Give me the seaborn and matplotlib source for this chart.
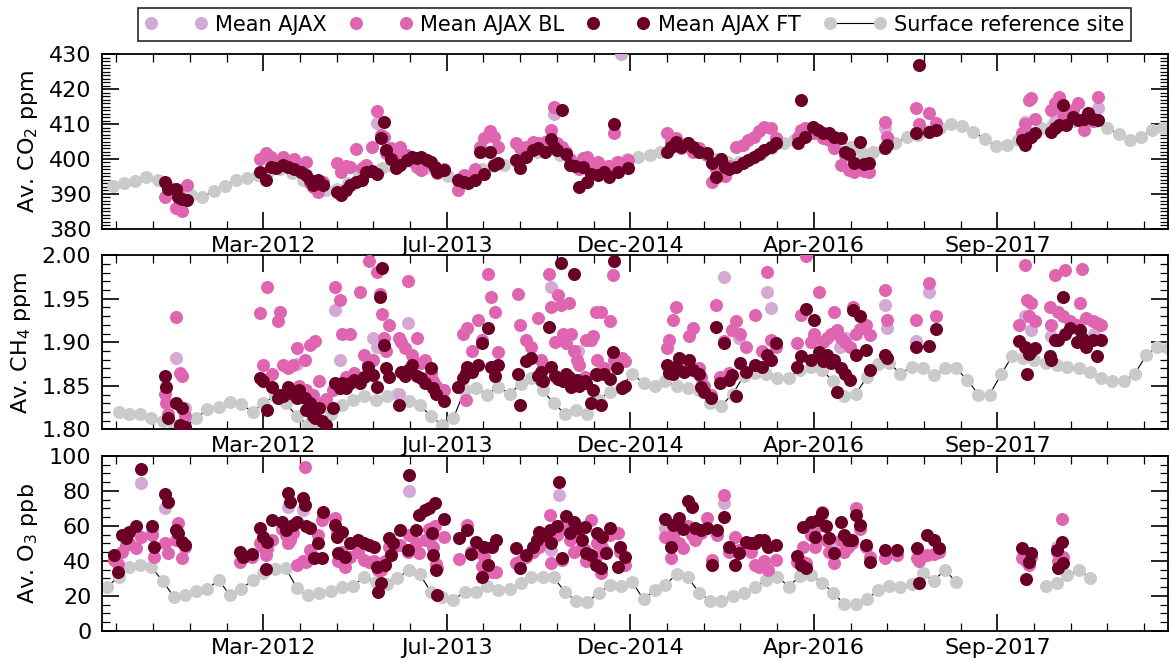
import numpy as np
import pandas as pd
import matplotlib
matplotlib.use("Agg")
import matplotlib.pyplot as plt
import matplotlib.dates as mdates
from matplotlib.ticker import MultipleLocator, FixedLocator, FormatStrFormatter
from matplotlib.lines import Line2D
import seaborn as sns

# ---------------------------------------------------------------- data ----
# AJAX flights: decimal-year flight time, boundary-layer (BL) and free-troposphere (FT) means
co2_time = [2011.47, 2011.49, 2011.55, 2011.57, 2011.60, 2011.63,
            2012.18, 2012.22, 2012.26, 2012.30, 2012.35, 2012.39, 2012.43, 2012.48, 2012.52, 2012.55, 2012.57, 2012.61, 2012.65,
            2012.75, 2012.78, 2012.82, 2012.85, 2012.89, 2012.94, 2012.97, 2013.01, 2013.05, 2013.08, 2013.10, 2013.12,
            2013.15, 2013.19, 2013.22, 2013.27, 2013.31, 2013.35, 2013.38, 2013.42, 2013.45, 2013.48, 2013.50, 2013.55,
            2013.65, 2013.70, 2013.73, 2013.78, 2013.82, 2013.85, 2013.89, 2013.92, 2013.95,
            2014.09, 2014.12, 2014.16, 2014.21, 2014.25, 2014.30, 2014.35, 2014.37, 2014.39, 2014.43, 2014.46, 2014.49,
            2014.53, 2014.56, 2014.59, 2014.62, 2014.65, 2014.70, 2014.74, 2014.78, 2014.82, 2014.85, 2014.92,
            2015.21, 2015.24, 2015.28, 2015.32, 2015.37, 2015.41, 2015.45, 2015.51, 2015.55, 2015.58, 2015.62, 2015.65,
            2015.68, 2015.73, 2015.78, 2015.82, 2015.86, 2015.90, 2015.94, 2015.99, 2016.03,
            2016.19, 2016.21, 2016.24, 2016.30, 2016.34, 2016.38, 2016.42, 2016.46, 2016.51, 2016.54, 2016.57, 2016.61,
            2016.65, 2016.68, 2016.72,
            2016.835, 2016.855, 2017.07, 2017.09, 2017.17, 2017.22,
            2017.86, 2017.88, 2017.91, 2017.93, 2017.96, 2018.08, 2018.11, 2018.14, 2018.17, 2018.19, 2018.24, 2018.28,
            2018.32, 2018.35, 2018.39, 2018.43]
co2_bl = [389.0, 392.0, 386.0, 390.0, 385.2, 392.5,
          399.9, 401.6, 400.6, 399.2, 400.6, 399.5, 400.0, 398.2, 399.0, 393.2, 392.0, 390.6, 393.5,
          398.7, 396.3, 398.0, 397.8, 402.8, 397.5, 398.3, 403.5, 413.7, 406.9, 406.4, 401.6,
          403.0, 401.6, 403.5, 401.0, 399.5, 397.8, 396.8, 399.0, 398.5, 397.0, 396.0, 397.0,
          391.1, 395.4, 394.5, 397.0, 403.5, 405.9, 408.1, 406.4, 403.5,
          404.5, 403.0, 403.5, 405.0, 404.5, 405.0, 408.3, 415.0, 404.5, 403.5, 402.0, 400.0,
          398.5, 397.0, 400.2, 400.6, 398.0, 399.2, 397.5, 398.0, 407.3, 399.0, 399.7,
          407.3, 405.0, 405.9, 403.0, 404.5, 402.0, 403.0, 401.0, 393.5, 397.0, 400.0, 395.0,
          398.0, 403.5, 404.0, 405.4, 406.4, 408.0, 409.3, 408.8, 406.0,
          406.4, 408.3, 409.0, 407.5, 408.0, 406.0, 405.4, 403.0, 398.3, 401.0, 396.8, 396.3,
          398.0, 396.5, 396.3,
          410.7, 406.4, 414.5, 410.0, 413.3, 410.2,
          407.3, 410.0, 416.9, 417.4, 411.6, 414.0, 416.0, 417.9, 413.0, 410.0, 414.0, 416.0,
          408.3, 412.0, 411.0, 417.9]
co2_ft = [393.5, 391.3, 391.5, 389.0, 388.4, 388.2,
          396.3, 394.0, 397.8, 397.5, 398.2, 397.6, 397.0, 396.3, 395.4, 394.0, 392.5, 394.0, 392.5,
          390.6, 389.7, 391.1, 392.5, 393.5, 394.0, 396.3, 396.6, 395.7, 405.9, 410.7, 402.6,
          399.9, 397.3, 398.3, 399.7, 400.7, 400.2, 400.7, 399.7, 399.2, 397.8, 396.3, 396.8,
          394.0, 393.5, 393.0, 394.0, 402.1, 395.8, 402.1, 398.3, 398.7,
          399.7, 397.3, 400.5, 402.6, 403.0, 402.0, 405.6, 403.5, 402.5, 414.0, 401.5, 398.3,
          398.0, 392.0, 397.8, 393.5, 395.8, 395.4, 396.3, 394.9, 410.0, 396.3, 397.3,
          402.1, 403.5, 405.0, 403.5, 404.5, 403.5, 402.1, 401.6, 398.7, 394.9, 399.9, 397.8,
          397.0, 397.8, 398.7, 399.7, 400.7, 401.5, 402.6, 403.5, 404.5,
          404.5, 416.9, 406.4, 409.3, 408.3, 407.5, 407.3, 406.4, 405.9, 402.1, 401.5, 398.7,
          405.0, 398.5, 398.7,
          403.0, 404.0, 407.3, 426.9, 407.8, 408.3,
          405.4, 404.0, 406.0, 406.4, 407.3, 407.8, 409.0, 409.7, 415.5, 409.7, 412.1, 411.2,
          411.6, 413.1, 411.6, 411.2]
co2_mean_time = [2013.05, 2014.37, 2014.87, 2016.835, 2017.88, 2018.11, 2018.43]
co2_mean = [410.2, 413.0, 430.0, 408.8, 410.7, 411.0, 414.5]

ch4_time = [2011.47, 2011.48, 2011.49, 2011.55, 2011.58, 2011.60, 2011.62,
            2012.18, 2012.20, 2012.23, 2012.27, 2012.31, 2012.33, 2012.35, 2012.39, 2012.42, 2012.45, 2012.47,
            2012.51, 2012.52, 2012.55, 2012.57, 2012.59, 2012.62, 2012.64, 2012.67,
            2012.72, 2012.74, 2012.77, 2012.79, 2012.82, 2012.85, 2012.88, 2012.92, 2012.95, 2012.98, 2012.99,
            2013.02, 2013.05, 2013.07, 2013.09, 2013.10, 2013.12, 2013.14,
            2013.21, 2013.23, 2013.26, 2013.28, 2013.31, 2013.35, 2013.38, 2013.41, 2013.45, 2013.47, 2013.49, 2013.55,
            2013.65, 2013.69, 2013.71, 2013.72, 2013.76, 2013.80, 2013.83, 2013.88, 2013.90, 2013.93, 2013.95,
            2014.10, 2014.12, 2014.16, 2014.20, 2014.25, 2014.27, 2014.29, 2014.33, 2014.35, 2014.38, 2014.40,
            2014.42, 2014.44, 2014.46, 2014.48, 2014.50, 2014.52, 2014.54, 2014.56, 2014.60, 2014.61, 2014.65,
            2014.66, 2014.68, 2014.69, 2014.72, 2014.74, 2014.79, 2014.81, 2014.82, 2014.84, 2014.88, 2014.90,
            2015.21, 2015.23, 2015.26, 2015.28, 2015.30, 2015.34, 2015.38, 2015.41, 2015.45, 2015.47, 2015.49,
            2015.54, 2015.58, 2015.61, 2015.64, 2015.68, 2015.70, 2015.73, 2015.76, 2015.80, 2015.87, 2015.92,
            2015.96, 2015.99, 2016.03,
            2016.18, 2016.21, 2016.25, 2016.29, 2016.31, 2016.35, 2016.38, 2016.41, 2016.44, 2016.46, 2016.48,
            2016.51, 2016.54, 2016.58, 2016.60, 2016.62, 2016.65, 2016.70, 2016.73, 2016.84, 2016.85,
            2017.07, 2017.17, 2017.22,
            2017.84, 2017.88, 2017.90, 2017.91, 2017.93, 2017.96, 2018.07, 2018.08, 2018.11, 2018.13, 2018.17,
            2018.18, 2018.22, 2018.27, 2018.29, 2018.31, 2018.34, 2018.39, 2018.42, 2018.45]
ch4_bl = [1.841, 1.830, 1.818, 1.929, 1.865, 1.861, 1.815,
          1.934, 1.874, 1.964, 1.864, 1.925, 1.935, 1.874, 1.870, 1.874, 1.894, 1.850,
          1.880, 1.845, 1.897, 1.840, 1.901, 1.856, 1.830, 1.835,
          1.845, 1.964, 1.949, 1.909, 1.860, 1.909, 1.865, 1.958, 1.885, 1.875, 1.993,
          1.880, 1.981, 1.956, 1.933, 1.905, 1.890, 1.920,
          1.905, 1.900, 1.893, 1.970, 1.885, 1.905, 1.876, 1.880, 1.865, 1.855, 1.850, 1.845,
          1.849, 1.909, 1.834, 1.916, 1.890, 1.926, 1.903, 1.979, 1.952, 1.935, 1.889,
          1.956, 1.920, 1.903, 1.895, 1.928, 1.880, 1.874, 1.979, 1.940, 1.900, 1.954,
          1.943, 1.910, 1.899, 1.945, 1.909, 1.890, 1.880, 1.874, 1.860, 1.903, 1.903,
          1.907, 1.935, 1.880, 1.935, 1.870, 1.924, 1.977, 1.880, 1.875, 1.882, 1.878,
          1.893, 1.903, 1.926, 1.941, 1.880, 1.875, 1.907, 1.916, 1.870, 1.860, 1.850,
          1.840, 1.943, 1.860, 1.901, 1.865, 1.914, 1.924, 1.910, 1.895, 1.931, 1.890,
          1.981, 1.903, 1.895,
          1.899, 1.931, 1.999, 1.900, 1.910, 1.958, 1.900, 1.905, 1.910, 1.935, 1.914,
          1.905, 1.900, 1.895, 1.941, 1.910, 1.915, 1.920, 1.908, 1.960, 1.926,
          1.926, 1.968, 1.930,
          1.920, 1.989, 1.949, 1.930, 1.945, 1.925, 1.941, 1.920, 1.977, 1.935, 1.930,
          1.983, 1.925, 1.920, 1.945, 1.984, 1.928, 1.924, 1.922, 1.920]
ch4_ft = [1.861, 1.849, 1.813, 1.830, 1.805, 1.824, 1.803,
          1.859, 1.855, 1.822, 1.849, 1.836, 1.840, 1.838, 1.849, 1.841, 1.836, 1.845,
          1.836, 1.822, 1.830, 1.815, 1.813, 1.825, 1.809, 1.805,
          1.824, 1.853, 1.847, 1.853, 1.847, 1.853, 1.857, 1.853, 1.860, 1.872, 1.865,
          1.862, 1.849, 1.952, 1.985, 1.897, 1.870, 1.860,
          1.828, 1.866, 1.861, 1.868, 1.874, 1.861, 1.859, 1.853, 1.870, 1.847, 1.841, 1.832,
          1.849, 1.859, 1.865, 1.872, 1.866, 1.874, 1.899, 1.916, 1.872, 1.861, 1.874,
          1.864, 1.828, 1.878, 1.882, 1.861, 1.866, 1.855, 1.918, 1.872, 1.861, 1.858,
          1.991, 1.855, 1.864, 1.860, 1.849, 1.979, 1.857, 1.850, 1.855, 1.853, 1.830,
          1.845, 1.864, 1.862, 1.828, 1.864, 1.858, 1.889, 1.993, 1.870, 1.847, 1.850,
          1.874, 1.865, 1.864, 1.872, 1.882, 1.866, 1.880, 1.868, 1.864, 1.849, 1.843,
          1.836, 1.918, 1.853, 1.899, 1.857, 1.862, 1.838, 1.876, 1.866, 1.874, 1.872,
          1.885, 1.880, 1.899,
          1.872, 1.884, 1.938, 1.880, 1.926, 1.889, 1.878, 1.885, 1.876, 1.880, 1.843,
          1.870, 1.864, 1.857, 1.937, 1.885, 1.930, 1.891, 1.868, 1.885, 1.882,
          1.895, 1.896, 1.915,
          1.901, 1.895, 1.864, 1.887, 1.890, 1.893, 1.884, 1.880, 1.903, 1.903, 1.952,
          1.910, 1.916, 1.900, 1.914, 1.905, 1.895, 1.903, 1.884, 1.903]
ch4_mean_time = [2011.55, 2011.62, 2012.45, 2012.74, 2012.77, 2013.02, 2013.05, 2013.21, 2013.28, 2014.20,
                 2014.35, 2014.55, 2014.70, 2015.64, 2015.70, 2015.75, 2015.96, 2015.99, 2016.50, 2016.55,
                 2016.84, 2016.85, 2017.07, 2017.17, 2017.88, 2017.93, 2018.08, 2018.30, 2018.40]
ch4_mean = [1.882, 1.825, 1.875, 1.937, 1.880, 1.905, 1.895, 1.841, 1.922, 1.882,
            1.964, 1.890, 1.865, 1.975, 1.914, 1.905, 1.958, 1.939, 1.895, 1.905,
            1.943, 1.916, 1.901, 1.958, 1.930, 1.914, 1.907, 1.905, 1.910]

o3_time = [2011.09, 2011.12, 2011.15, 2011.18, 2011.20, 2011.25, 2011.29, 2011.37, 2011.39, 2011.47, 2011.49,
           2011.55, 2011.57, 2011.60, 2011.62,
           2012.03, 2012.05, 2012.12, 2012.18, 2012.20, 2012.22, 2012.23, 2012.27, 2012.34, 2012.37, 2012.39,
           2012.40, 2012.42, 2012.45, 2012.50, 2012.51, 2012.52, 2012.55, 2012.58, 2012.61, 2012.64, 2012.65,
           2012.74, 2012.75, 2012.76, 2012.79, 2012.81, 2012.85, 2012.91, 2012.95, 2012.99, 2013.03, 2013.05,
           2013.06, 2013.08, 2013.11, 2013.14, 2013.15, 2013.17,
           2013.22, 2013.28, 2013.29, 2013.34, 2013.36, 2013.41, 2013.44, 2013.46, 2013.47, 2013.48, 2013.49,
           2013.50, 2013.55,
           2013.66, 2013.72, 2013.75, 2013.79, 2013.83, 2013.85, 2013.88, 2013.91, 2013.94,
           2014.09, 2014.12, 2014.16, 2014.21, 2014.24, 2014.26, 2014.30, 2014.34, 2014.35, 2014.39, 2014.41,
           2014.43, 2014.46, 2014.49, 2014.52, 2014.55, 2014.58, 2014.60, 2014.61, 2014.65, 2014.68, 2014.69,
           2014.72, 2014.73, 2014.76, 2014.79, 2014.85, 2014.86, 2014.90,
           2015.20, 2015.24, 2015.26, 2015.30, 2015.33, 2015.37, 2015.40, 2015.42, 2015.47, 2015.51, 2015.55,
           2015.59, 2015.64, 2015.68, 2015.72, 2015.75, 2015.80, 2015.84, 2015.87, 2015.90, 2015.94, 2015.97,
           2016.03,
           2016.18, 2016.21, 2016.23, 2016.25, 2016.29, 2016.32, 2016.34, 2016.37, 2016.40, 2016.42, 2016.46,
           2016.51, 2016.53, 2016.56, 2016.59, 2016.62, 2016.65, 2016.70, 2016.73,
           2016.84, 2016.93, 2017.08, 2017.09, 2017.15, 2017.20, 2017.24,
           2017.86, 2017.89, 2017.91, 2017.93, 2018.12, 2018.13, 2018.16, 2018.17]
o3_bl = [40.5, 38.0, 45.0, 49.0, 50.0, 47.1, 53.8, 55.0, 42.4, 50.0, 44.3,
         52.0, 61.5, 41.4, 48.0,
         39.5, 42.0, 42.0, 50.0, 48.0, 43.3, 47.0, 51.9, 58.0, 55.0, 50.0,
         52.0, 56.0, 37.6, 40.0, 93.9, 39.5, 46.2, 42.0, 55.0, 63.4, 65.0,
         64.3, 55.7, 40.0, 45.0, 36.6, 42.0, 45.0, 40.5, 39.5, 40.0, 38.0,
         35.0, 34.7, 40.0, 48.0, 45.0, 48.0,
         49.0, 45.0, 55.0, 50.0, 44.3, 51.9, 58.0, 55.0, 48.0, 60.0, 38.0,
         36.0, 53.8,
         40.8, 60.6, 45.0, 45.0, 37.0, 42.0, 37.6, 33.8, 33.8,
         38.5, 40.0, 42.0, 45.0, 50.0, 48.0, 52.0, 66.2, 38.5, 55.0, 60.0,
         40.5, 58.0, 52.0, 45.0, 55.0, 48.0, 46.0, 40.0, 63.4, 42.0, 50.0,
         32.8, 48.0, 45.0, 55.0, 55.7, 45.0, 37.6,
         53.8, 41.4, 55.0, 50.0, 47.1, 60.0, 55.0, 52.0, 56.0, 64.3, 40.5,
         54.8, 77.7, 45.0, 53.8, 46.0, 48.0, 45.0, 37.6, 36.6, 40.0, 34.7,
         40.5,
         39.5, 40.0, 48.0, 39.0, 55.0, 48.1, 60.0, 68.1, 52.0, 45.0, 38.5,
         52.0, 45.0, 48.0, 50.0, 70.0, 58.0, 48.0, 42.4,
         41.4, 43.3, 41.4, 40.0, 43.3, 44.0, 45.0,
         41.4, 40.0, 37.6, 42.0, 45.0, 40.0, 63.7, 42.0]
o3_ft = [43.3, 33.8, 54.8, 52.9, 56.7, 60.0, 92.4, 60.1, 48.1, 78.2, 73.9,
         57.6, 55.7, 51.0, 49.0,
         45.2, 42.4, 43.9, 58.6, 53.8, 35.6, 51.0, 63.4, 62.4, 57.6, 78.6,
         73.9, 60.6, 62.4, 75.8, 71.9, 60.0, 58.6, 41.4, 50.0, 41.4, 68.1,
         60.5, 53.8, 44.3, 56.7, 42.4, 50.0, 51.9, 50.0, 49.0, 48.1, 36.6,
         22.3, 27.1, 37.6, 52.9, 43.3, 50.0,
         57.6, 46.2, 89.1, 57.6, 66.2, 69.1, 70.0, 55.7, 43.3, 72.9, 34.7,
         20.4, 63.7,
         52.9, 57.6, 43.9, 51.0, 30.9, 48.1, 37.6, 48.1, 51.9,
         47.1, 35.7, 43.3, 48.1, 52.0, 56.7, 55.0, 57.6, 50.0, 60.0, 85.3,
         41.4, 65.6, 55.7, 62.0, 58.6, 51.9, 59.5, 44.3, 43.3, 37.6, 55.7,
         35.7, 53.8, 44.3, 58.6, 36.6, 48.1, 42.4,
         63.7, 48.1, 60.5, 64.3, 58.0, 74.4, 71.0, 58.6, 57.6, 58.6, 37.6,
         57.6, 65.3, 48.1, 37.6, 44.3, 51.0, 50.0, 50.5, 51.9, 51.9, 48.0,
         49.0,
         42.7, 37.6, 59.5, 35.7, 62.4, 53.8, 63.4, 67.2, 60.0, 52.9, 44.3,
         62.4, 55.0, 51.9, 52.0, 66.2, 60.5, 49.0, 39.5,
         46.2, 46.2, 47.1, 27.1, 54.8, 51.9, 47.1,
         47.1, 29.4, 39.5, 44.3, 46.2, 35.7, 51.0, 38.5]
o3_mean_time = [2011.29, 2011.37, 2011.47, 2012.39, 2012.50, 2013.29, 2014.35, 2014.41, 2015.20, 2015.64,
                2016.37, 2016.46, 2018.12]
o3_mean = [84.7, 57.0, 70.0, 71.0, 69.0, 80.0, 46.2, 77.7, 58.6, 72.9, 62.0, 50.0, 48.0]

# Surface reference site: monthly means (NaN = month without data)
co2_ref_start = "2011-02-01"
co2_ref = [392.2, 393.2, 393.7, 394.7, 394.1, 392.0, 390.0, 389.7, 389.2, 390.8,
           392.3, 394.0, 394.4, 395.5, 396.5, 397.0, 396.0, 394.0, 392.0, 391.1,
           391.5, 393.0, 395.0, 396.5, 397.5, 398.0, 399.0, 399.5, 397.5, 396.5,
           395.0, 394.5, 395.5, 397.0, 398.0, 398.3, 399.5, 401.0, 402.0, 402.5,
           401.0, 399.0, 397.5, 397.0, 398.0, 399.0, 400.0, 400.6, 401.1, 402.1,
           403.0, 403.5, 403.0, 401.5, 400.0, 399.0, 399.0, 400.0, 401.5, 403.0,
           404.5, 405.5, 406.5, 407.5, 407.0, 405.5, 403.5, 401.6, 402.1, 403.0,
           404.5, 406.4, 407.0, 408.0, 408.8, 409.9, 409.4, 407.8, 405.8, 403.7,
           403.9, 405.5, 407.5, 408.8, 409.5, 410.5, 411.0, 411.5, 411.0, 409.0,
           407.2, 405.5, 406.2, 408.3, 408.9]
ch4_ref_start = "2011-02-15"
ch4_ref = [1.820, 1.818, 1.818, 1.813, 1.809, 1.805, 1.803, 1.813, 1.823, 1.826,
           1.831, 1.829, 1.820, 1.830, 1.838, 1.830, 1.815, 1.805, 1.805, 1.818,
           1.828, 1.834, 1.838, 1.834, 1.838, 1.841, 1.832, 1.828, 1.815, 1.805,
           1.813, 1.845, 1.847, 1.840, 1.849, 1.841, 1.852, 1.859, 1.845, 1.830,
           1.818, 1.822, 1.818, 1.834, 1.843, 1.848, 1.864, 1.853, 1.850, 1.855,
           1.850, 1.848, 1.845, 1.830, 1.827, 1.841, 1.861, 1.865, 1.864, 1.859,
           1.859, 1.868, 1.872, 1.868, 1.855, 1.838, 1.841, 1.860, 1.875, 1.876,
           1.864, 1.872, 1.870, 1.862, 1.870, 1.870, 1.857, 1.840, 1.840, 1.863,
           1.884, 1.882, 1.880, 1.876, 1.874, 1.872, 1.870, 1.866, 1.859, 1.855,
           1.855, 1.864, 1.885, 1.895, 1.893]
o3_ref_start = "2011-01-15"
o3_ref = [25.2, 30.9, 36.6, 37.6, 36.3, 28.6, 19.5, 20.4, 22.9, 23.9,
          29.0, 20.4, 23.7, 29.0, 33.0, 35.3, 36.1, 24.2, 20.2, 21.8,
          22.9, 25.2, 25.6, 30.9, 28.0, 27.0, 30.0, 34.7, 32.3, 22.3,
          19.1, 17.6, 22.3, 22.3, 25.6, 23.3, 23.7, 27.5, 30.9, 30.5,
          30.5, 22.3, 17.0, 16.6, 21.4, 26.1, 25.8, 28.1, 17.9, 23.3,
          26.1, 32.4, 30.9, 21.8, 17.2, 17.2, 19.8, 21.8, 25.2, 29.0,
          30.9, 25.2, 31.3, 31.9, 27.5, 21.8, 15.1, 15.1, 17.9, 23.3,
          25.6, 25.2, 27.0, 32.8, 28.6, 34.7, 28.1, np.nan, np.nan, np.nan,
          np.nan, np.nan, np.nan, np.nan, 25.8, 27.5, 31.9, 34.7, 30.3]

series_labels = ["Mean AJAX", "Mean AJAX BL", "Mean AJAX FT", "Surface reference site"]
y_labels = ["Av. CO$_2$ ppm", "Av. CH$_4$ ppm", "Av. O$_3$ ppb"]

# ---------------------------------------------------------------- style ---
C_MEAN = "#d4a9d6"
C_BL = "#df65b0"
C_FT = "#6a0026"
C_REF = "#cacaca"
MS = 88  # marker area, points^2

sns.set_style("ticks", {"xtick.direction": "in", "ytick.direction": "in",
                        "text.color": "black", "axes.labelcolor": "black",
                        "xtick.color": "black", "ytick.color": "black",
                        "axes.edgecolor": "black"})
plt.rcParams["font.family"] = ["DejaVu Sans"]
plt.rcParams["mathtext.default"] = "regular"


def to_dates(decimal_years):
    out = []
    for v in decimal_years:
        y = int(v)
        start = pd.Timestamp(year=y, month=1, day=1)
        end = pd.Timestamp(year=y + 1, month=1, day=1)
        out.append(start + (end - start) * (v - y))
    return pd.DatetimeIndex(out)


def monthly(start, values):
    first = pd.Timestamp(start)
    base = pd.date_range(first.replace(day=1), periods=len(values), freq="MS")
    return base + pd.Timedelta(days=first.day - 1)


def draw_reference(ax, dates, values):
    vals = np.asarray(values, dtype=float)
    idx = np.flatnonzero(~np.isnan(vals))
    runs = np.split(idx, np.flatnonzero(np.diff(idx) > 1) + 1)
    for r in runs:
        sns.lineplot(x=dates[r], y=vals[r], color="black", lw=0.8, ax=ax,
                     estimator=None, sort=False, legend=False, zorder=1)
    sns.scatterplot(x=dates[idx], y=vals[idx], color=C_REF, s=MS, linewidth=0,
                    ax=ax, legend=False, zorder=2)


def draw_ajax(ax, mean_t, mean_v, t, bl, ft):
    sns.scatterplot(x=to_dates(mean_t), y=mean_v, color=C_MEAN, s=MS, linewidth=0,
                    ax=ax, legend=False, zorder=3)
    d = to_dates(t)
    sns.scatterplot(x=d, y=bl, color=C_BL, s=MS, linewidth=0, ax=ax, legend=False, zorder=4)
    sns.scatterplot(x=d, y=ft, color=C_FT, s=MS, linewidth=0, ax=ax, legend=False, zorder=5)


fig = plt.figure(figsize=(11.71, 6.61), dpi=100)
left, width = 0.0875, 0.9103
panel_boxes = [(0.6540, 0.2638), (0.3505, 0.2633), (0.0458, 0.2643)]
axes = [fig.add_axes([left, b, width, h]) for b, h in panel_boxes]

panels = [
    (co2_mean_time, co2_mean, co2_time, co2_bl, co2_ft, co2_ref_start, co2_ref, (380, 430), 10, 1, "%d"),
    (ch4_mean_time, ch4_mean, ch4_time, ch4_bl, ch4_ft, ch4_ref_start, ch4_ref, (1.80, 2.00), 0.05, 0.01, "%.2f"),
    (o3_mean_time, o3_mean, o3_time, o3_bl, o3_ft, o3_ref_start, o3_ref, (0, 100), 20, 5, "%d"),
]

tick_origin = pd.Timestamp("2012-03-15")
major_dates = [tick_origin + pd.Timedelta(days=500 * k) for k in range(-1, 5)]
minor_dates = [tick_origin + pd.Timedelta(days=100 * k) for k in range(-5, 25)]
x_lo, x_hi = pd.Timestamp("2011-01-02"), pd.Timestamp("2018-12-15")

for ax, ylab, (mt, mv, t, bl, ft, rs, rv, ylim, ymaj, ymin, yfmt) in zip(axes, y_labels, panels):
    draw_reference(ax, monthly(rs, rv), rv)
    draw_ajax(ax, mt, mv, t, bl, ft)
    ax.set_xlim(x_lo, x_hi)
    ax.set_ylim(*ylim)
    ax.xaxis.set_major_locator(FixedLocator(mdates.date2num(major_dates)))
    ax.xaxis.set_minor_locator(FixedLocator(mdates.date2num(minor_dates)))
    ax.xaxis.set_major_formatter(mdates.DateFormatter("%b-%Y"))
    ax.yaxis.set_major_locator(MultipleLocator(ymaj))
    ax.yaxis.set_minor_locator(MultipleLocator(ymin))
    ax.yaxis.set_major_formatter(FormatStrFormatter(yfmt))
    ax.tick_params(which="both", direction="in", top=True, right=True, labelsize=16,
                   color="black", labelcolor="black")
    ax.tick_params(which="major", length=12, width=1.2)
    ax.tick_params(which="minor", length=5.5, width=0.9)
    ax.tick_params(axis="x", which="major", pad=5)
    ax.tick_params(axis="y", which="major", pad=8)
    ax.set_xlabel("")
    ax.set_ylabel(ylab, fontsize=16, labelpad=6, color="black")
    for sp in ax.spines.values():
        sp.set_linewidth(1.3)
        sp.set_color("black")
        sp.set_visible(True)

handles = [
    Line2D([], [], ls="none", marker="o", markersize=9.4, markeredgewidth=0, color=C_MEAN),
    Line2D([], [], ls="none", marker="o", markersize=9.4, markeredgewidth=0, color=C_BL),
    Line2D([], [], ls="none", marker="o", markersize=9.4, markeredgewidth=0, color=C_FT),
    Line2D([], [], ls="-", lw=0.8, color="black", marker="o", markersize=9.4, markeredgewidth=0,
           markerfacecolor=C_REF),
]
leg = fig.legend(handles, series_labels, loc="upper center", bbox_to_anchor=(0.5417, 0.9875),
                 ncol=4, numpoints=2, frameon=True, fancybox=False, framealpha=1,
                 edgecolor="0.15", fontsize=15, handlelength=3.0, handletextpad=0.39,
                 columnspacing=1.1, borderaxespad=0, borderpad=0.3)
leg.get_frame().set_linewidth(1.2)
for txt in leg.get_texts():
    txt.set_color("black")

fig.savefig("out.png", dpi=100)
